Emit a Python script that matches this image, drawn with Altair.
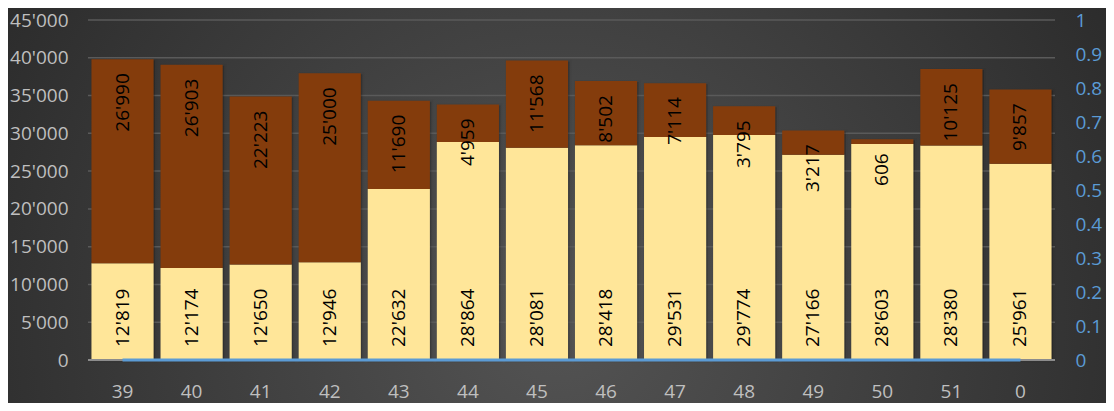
import altair as alt
import pandas as pd

# ---- data ----
weeks = ["39", "40", "41", "42", "43", "44", "45", "46", "47", "48", "49", "50", "51", "0"]
lower = [12819, 12174, 12650, 12946, 22632, 28864, 28081, 28418, 29531, 29774, 27166, 28603, 28380, 25961]
upper = [26990, 26903, 22223, 25000, 11690, 4959, 11568, 8502, 7114, 3795, 3217, 606, 10125, 9857]
ratio = [0, 0, 0, 0, 0, 0, 0, 0, 0, 0, 0, 0, 0, 0]
left_ticks = [0, 5000, 10000, 15000, 20000, 25000, 30000, 35000, 40000, 45000]
right_ticks = [0, 0.1, 0.2, 0.3, 0.4, 0.5, 0.6, 0.7, 0.8, 0.9, 1]

df = pd.DataFrame({"week": weeks, "lower": lower, "upper": upper, "ratio": ratio})
df["total"] = df["lower"] + df["upper"]
df["zero"] = 0
grid_df = pd.DataFrame({"g": left_ticks})

W, H = 967, 340
PL, PT, PR, PB = 80, 12, 51, 43
FONT = "Open Sans"
AX_COLOR = "#BFBFBF"
BLUE = "#5B9BD5"
APOS = "replace(format(datum.value, ','), ',', \"'\")"

x_enc = alt.X(
    "week:N", sort=weeks, title=None,
    scale=alt.Scale(paddingInner=0.1, paddingOuter=0.05),
    axis=alt.Axis(labelAngle=0, labelFontSize=19, labelFont=FONT, labelColor=AX_COLOR,
                  labelPadding=22, ticks=False, domain=False, grid=False, zindex=1),
)
yscale = alt.Scale(domain=[0, 45000], nice=False, zero=True)
left_axis = alt.Axis(values=left_ticks, labelExpr=APOS, labelFontSize=19,
                     labelFont=FONT, labelColor=AX_COLOR, labelPadding=20, ticks=False,
                     domain=False, grid=False, zindex=1, title=None, labelOverlap=False)


def ly(field):
    return alt.Y(field, scale=yscale, axis=left_axis, title=None)


bg = alt.Chart(pd.DataFrame({"a": [0]})).mark_rect(
    color={
        "gradient": "radial",
        "x1": 0.5, "y1": 0.6, "r1": 0,
        "x2": 0.5, "y2": 0.6, "r2": 0.72,
        "stops": [
            {"offset": 0, "color": "#545454"},
            {"offset": 1, "color": "#222222"},
        ],
    }
).encode(x=alt.value(-PL), x2=alt.value(W + PR), y=alt.value(-PT), y2=alt.value(H + PB))

grid = alt.Chart(grid_df).mark_rule(color="#5a5a5a", strokeWidth=1.5).encode(
    y=ly("g:Q"), x=alt.value(0), x2=alt.value(W),
)

base = alt.Chart(df)
shadow = base.mark_bar(color="#000000", opacity=0.22, stroke="#000000", strokeWidth=4,
                       strokeOpacity=0.12, xOffset=1.5, yOffset=1).encode(
    x=x_enc, y=ly("total:Q")
)
bar_low = base.mark_bar(color="#FFE699").encode(x=x_enc, y=ly("lower:Q"))
bar_up = base.mark_bar(color="#843C0C").encode(x=x_enc, y=ly("total:Q"), y2="lower:Q")
axis_rule = base.mark_rule(color="#8c8c8c", strokeWidth=1.5).encode(
    y=ly("zero:Q"), x=alt.value(0), x2=alt.value(W)
)
txt_low = base.transform_calculate(
    lbl="replace(format(datum.lower, ','), ',', \"'\")"
).mark_text(angle=270, align="left", baseline="middle", dx=13, fontSize=19, font=FONT,
            color="#000000").encode(x=x_enc, y=ly("zero:Q"), text="lbl:N")
txt_up = base.transform_calculate(
    lbl="replace(format(datum.upper, ','), ',', \"'\")"
).mark_text(angle=270, align="right", baseline="middle", dx=-14, fontSize=19, font=FONT,
            color="#000000").encode(x=x_enc, y=ly("total:Q"), text="lbl:N")

inner = alt.layer(grid, shadow, bar_low, bar_up, axis_rule, txt_low, txt_up)

line = base.mark_line(color=BLUE, strokeWidth=3).encode(
    x=x_enc,
    y=alt.Y("ratio:Q", title=None, scale=alt.Scale(domain=[0, 1], nice=False),
            axis=alt.Axis(orient="right", values=right_ticks,
                          labelExpr="format(datum.value, '.1~f')", labelColor=BLUE,
                          labelFontSize=19, labelFont=FONT, labelPadding=20, ticks=False,
                          domain=False, grid=False, zindex=1, title=None,
                          labelOverlap=False)),
)

chart = alt.layer(bg, inner, line).resolve_scale(y="independent").properties(
    width=W, height=H,
    padding={"left": PL, "top": PT, "right": PR, "bottom": PB},
    autosize=alt.AutoSizeParams(type="none"),
    background="#2a2a2a",
).configure_view(stroke=None)

chart.save("out.html", embed_options={"renderer": "svg", "actions": False})
